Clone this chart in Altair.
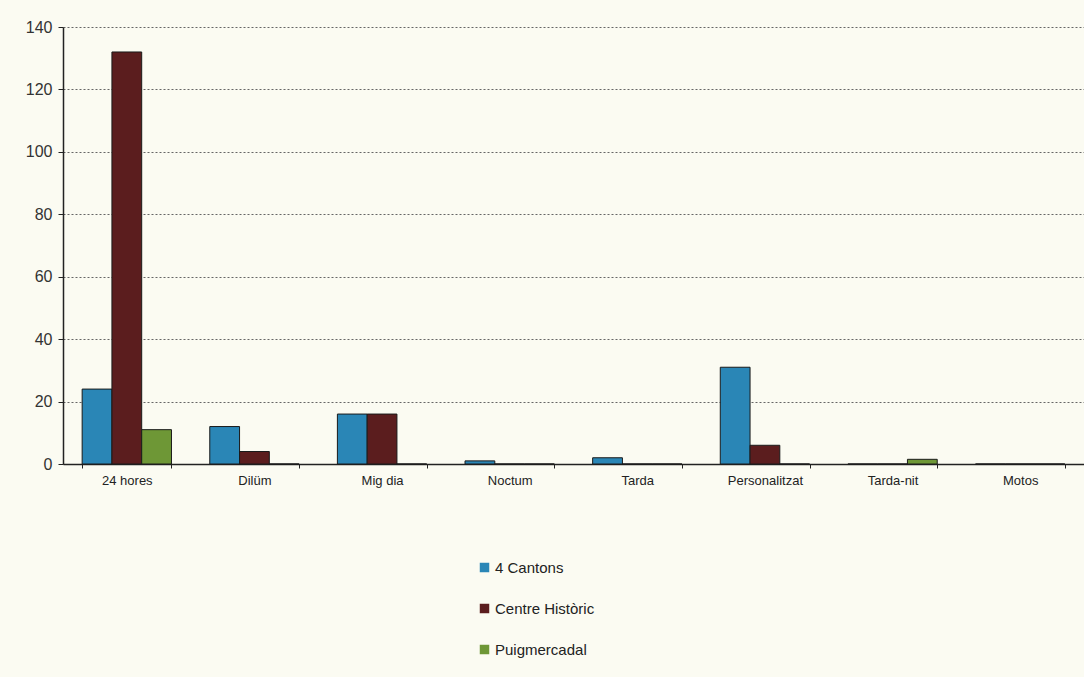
import altair as alt
import pandas as pd

categories = ["24 hores", "Dilüm", "Mig dia", "Noctum", "Tarda", "Personalitzat", "Tarda-nit", "Motos"]
series = ["4 Cantons", "Centre Històric", "Puigmercadal"]
cantons = [24, 12, 16, 1, 2, 31, 0, 0]
centre = [132, 4, 16, 0, 0, 6, 0, 0]
puig = [11, 0, 0, 0, 0, 0, 1.5, 0]
colors = ["#2a86b6", "#5b1d1e", "#6e9736"]

rows = []
for i, c in enumerate(categories):
    for s, vals in zip(series, [cantons, centre, puig]):
        rows.append({"cat": c, "serie": s, "val": vals[i]})
df = pd.DataFrame(rows)

font = "Liberation Sans"

bars = alt.Chart(df).mark_bar(stroke="#1a1a1a", strokeWidth=1).encode(
    x=alt.X("cat:N", sort=categories, title=None,
            scale=alt.Scale(paddingInner=0.3, paddingOuter=0.15),
            axis=alt.Axis(labelAngle=0, labelFontSize=13, labelColor="#222", labelFont=font,
                          domainColor="#222", domainWidth=1.5, tickColor="#222",
                          tickBand="extent", tickSize=4, labelPadding=6, grid=False)),
    xOffset=alt.XOffset("serie:N", sort=series),
    y=alt.Y("val:Q", title=None,
            scale=alt.Scale(domain=[0, 140], nice=False),
            axis=alt.Axis(values=list(range(0, 141, 20)), labelFontSize=16, labelColor="#333",
                          labelFont=font, domainColor="#222", domainWidth=1.5, tickColor="#222",
                          tickSize=5, labelPadding=6,
                          grid=True, gridColor="#666", gridDash=[2, 2], gridWidth=1)),
    color=alt.Color("serie:N", sort=series,
                    scale=alt.Scale(domain=series, range=colors),
                    legend=alt.Legend(title=None, orient="none", legendX=414, legendY=533,
                                      symbolType="square", symbolSize=90, symbolStrokeWidth=0,
                                      labelFontSize=15, labelFont=font, labelColor="#222",
                                      rowPadding=25, symbolOffset=0, labelOffset=3)),
)

chart = bars.properties(
    width=1021, height=437,
    autosize=alt.AutoSizeParams(type="none"),
    padding={"left": 63, "top": 27, "right": 0, "bottom": 213},
    background="#fbfbf2",
).configure_view(stroke=None)

chart.save("out.html", embed_options={"renderer": "svg", "actions": False})
